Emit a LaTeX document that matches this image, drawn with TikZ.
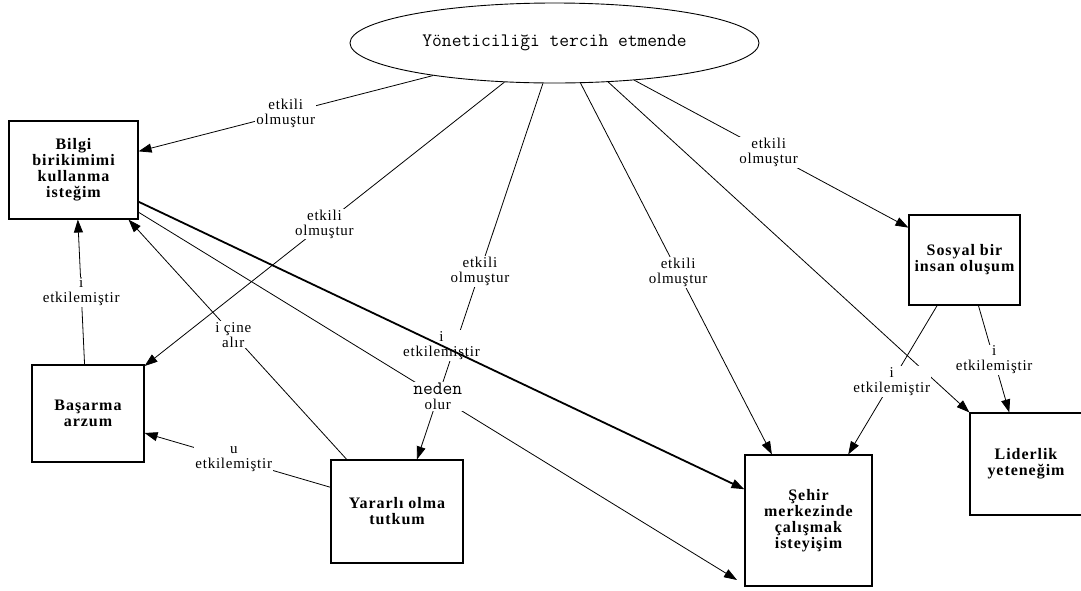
\documentclass[tikz,border=0pt]{standalone}
\usepackage{fontspec}
\setmainfont{Liberation Serif}
\newfontfamily\etiketfont[LetterSpace=5]{Liberation Serif}
\newfontfamily\kutufont[LetterSpace=6]{Liberation Serif}
\usetikzlibrary{arrows.meta,shapes.geometric}

\begin{document}
\begin{tikzpicture}[x=1pt,y=-1pt,
      kutu/.style={
         rectangle,
         draw=black,
         line width=1.1pt,
         align=center,
         inner sep=2pt,
         font=\kutufont\bfseries\fontsize{16}{16}\selectfont},
      etiket/.style={
         fill=white,
         inner sep=1pt,
         align=center,
         font=\etiketfont\fontsize{15}{15}\selectfont},
      okcizgi/.style={-{Triangle[length=13pt,width=9pt]},line width=0.8pt}
      ]
      \useasboundingbox (0,0) rectangle (1081,590);

      \node[ellipse,draw,line width=0.9pt,minimum width=409pt,minimum height=80pt,inner sep=0pt,
            font=\ttfamily\fontsize{19}{22}\selectfont] (tercih) at (554.5,43) {Yöneticiliği tercih etmende};

      \node[kutu,minimum width=129pt,minimum height=98pt] (bilgi) at (73.5,170) {Bilgi\\birikimimi\\kullanma\\isteğim};
      \node[kutu,minimum width=112pt,minimum height=97pt] (basarma) at (88,413.5) {Başarma\\arzum};
      \node[kutu,minimum width=132pt,minimum height=103pt] (yararli) at (397,511.5) {Yararlı olma\\tutkum};
      \node[kutu,minimum width=111pt,minimum height=90pt] (sosyal) at (964.5,260) {Sosyal bir\\insan oluşum};
      \node[kutu,minimum width=127pt,minimum height=131pt] (sehir) at (808.5,520.5) {Şehir\\merkezinde\\çalışmak\\isteyişim};
      \node[kutu,minimum width=112pt,minimum height=102pt] (liderlik) at (1026,464) {Liderlik\\yeteneğim};
      \coordinate (bosuc) at (737,580);

      \draw[okcizgi] (tercih.324) -- (liderlik.north west);

    \foreach \i/\j/\txt/\p in {% start node/end node/text/position
      tercih.218/basarma.40/etkili\\olmuştur/0.5,
      tercih.195/bilgi.16/etkili\\olmuştur/0.5,
      tercih.254/yararli.69/etkili\\olmuştur/0.5,
      tercih.303/sehir.119/etkili\\olmuştur/0.51,
      tercih.335/sosyal.150/etkili\\olmuştur/0.49,
      basarma.94/bilgi.275/i\\etkilemiştir/0.5,
      yararli.134/bilgi.318/i çine\\alır/0.52,
      yararli.160/basarma.341/u\\etkilemiştir/0.52,
      sosyal.239/sehir.59/i\\etkilemiştir/0.51,
      sosyal.287/liderlik.108/i\\etkilemiştir/0.51,
      bilgi.327/bosuc/{{\ttfamily\fontsize{19}{15}\selectfont neden}\\olur}/0.5}
       \draw [okcizgi] (\i) -- node[etiket,pos=\p] {\txt} (\j);

      % kalin ok etiketin ustunden gecer
      \path (bilgi.334) -- node[etiket,pos=0.5] {i\\etkilemiştir} (sehir.154);
      \draw[okcizgi,line width=1.8pt] (bilgi.334) -- (sehir.154);

\end{tikzpicture}
\end{document}
